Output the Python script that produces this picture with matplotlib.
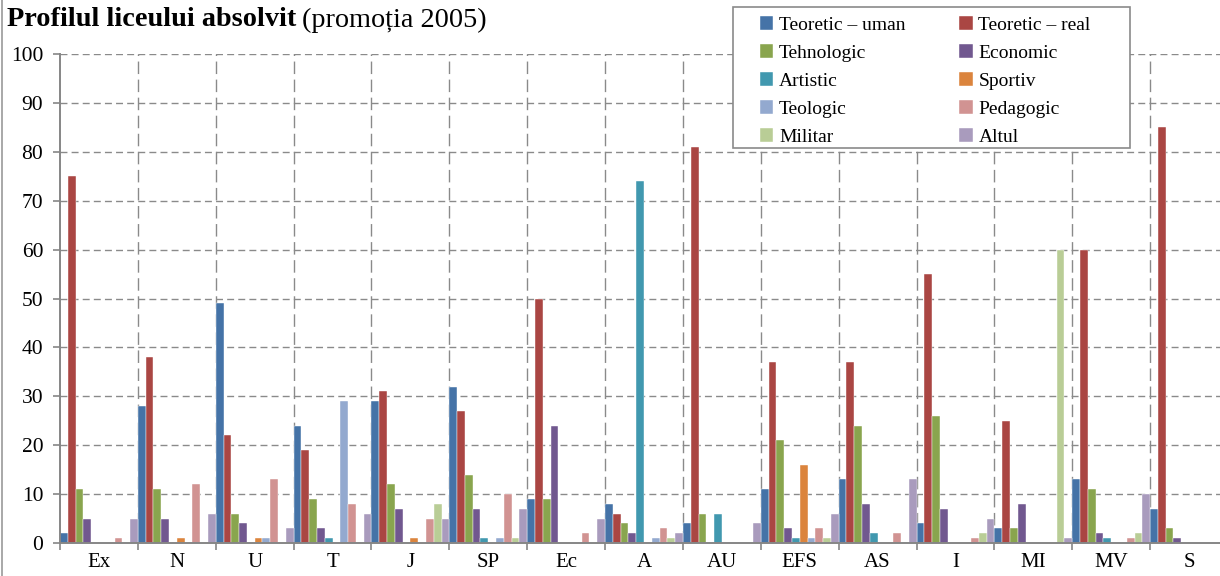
import numpy as np
import matplotlib
matplotlib.use("Agg")
import matplotlib.pyplot as plt
from matplotlib.patches import Rectangle
from matplotlib.lines import Line2D

categories = ["Ex", "N", "U", "T", "J", "SP", "Ec", "A", "AU", "EFS",
              "AS", "I", "MI", "MV", "S"]

series_names = ["Teoretic – uman", "Teoretic – real", "Tehnologic", "Economic",
                "Artistic", "Sportiv", "Teologic", "Pedagogic", "Militar", "Altul"]

teoretic_uman = [2, 28, 49, 24, 29, 32, 9, 8, 4, 11, 13, 4, 3, 13, 7]
teoretic_real = [75, 38, 22, 19, 31, 27, 50, 6, 81, 37, 37, 55, 25, 60, 85]
tehnologic = [11, 11, 6, 9, 12, 14, 9, 4, 6, 21, 24, 26, 3, 11, 3]
economic = [5, 5, 4, 3, 7, 7, 24, 2, 0, 3, 8, 7, 8, 2, 1]
artistic = [0, 0, 0, 1, 0, 1, 0, 74, 6, 1, 2, 0, 0, 1, 0]
sportiv = [0, 1, 1, 0, 1, 0, 0, 0, 0, 16, 0, 0, 0, 0, 0]
teologic = [0, 0, 1, 29, 0, 1, 0, 1, 0, 1, 0, 0, 0, 0, 0]
pedagogic = [1, 12, 13, 8, 5, 10, 2, 3, 0, 3, 2, 1, 0, 1, 0]
militar = [0, 0, 0, 0, 8, 1, 0, 1, 0, 1, 0, 2, 60, 2, 0]
altul = [5, 6, 3, 6, 5, 7, 5, 2, 4, 6, 13, 5, 1, 10, 0]

values = [teoretic_uman, teoretic_real, tehnologic, economic, artistic,
          sportiv, teologic, pedagogic, militar, altul]

colors = ["#4573A7", "#AA4643", "#89A54E", "#71588F", "#4198AF",
          "#DB843D", "#93A9CF", "#D19392", "#B9CD96", "#A99BBD"]

serif = ["Liberation Serif", "DejaVu Serif"]
plt.rcParams["font.family"] = serif

W, H = 1220, 576
fig = plt.figure(figsize=(W / 100, H / 100), dpi=100)
ax = fig.add_axes([60 / W, 33 / H, (1228 - 60) / W, 489 / H])

n = len(values)
x = np.arange(len(categories))
bw = 1.0 / n
for i, (vals, col) in enumerate(zip(values, colors)):
    ax.bar(x - 0.5 + bw * (i + 0.5), vals, width=bw, color=col,
           edgecolor="white", linewidth=0.3, label=series_names[i], zorder=3)

ax.set_xlim(-0.5, len(categories) - 0.5)
ax.set_ylim(0, 100)
ax.set_yticks(range(0, 101, 10))
ax.set_xticks(np.arange(len(categories) + 1) - 0.5)
ax.set_xticklabels([])
ax.set_xticks(x, minor=True)
ax.set_xticklabels(categories, minor=True)
ax.tick_params(axis="x", which="minor", length=0, pad=7, labelsize=15)
ax.tick_params(axis="x", which="major", length=5, color="#868686", width=1.2)
ax.tick_params(axis="y", length=5, color="#868686", width=1.2, labelsize=15.5, pad=7)

for s in ["top", "right"]:
    ax.spines[s].set_visible(False)
for s in ["left", "bottom"]:
    ax.spines[s].set_color("#868686")
    ax.spines[s].set_linewidth(1.4)
    ax.spines[s].set_zorder(4)

for yv in range(10, 101, 10):
    ax.axhline(yv, color="#8a8a8a", lw=1.0, ls=(0, (5, 3)), zorder=1)
for xv in np.arange(1, len(categories)) - 0.5:
    ax.axvline(xv, color="#8a8a8a", lw=1.0, ls=(0, (9, 4)), zorder=1)

# left frame line of chart area
fig.add_artist(Line2D([2 / W, 2 / W], [0, 1], color="#9a9a9a", lw=1.2))

# title: bold part + normal part
t1 = fig.text(7 / W, 1 - 20 / H, "Profilul liceului absolvit", fontsize=20.3,
              fontweight="bold", va="center", ha="left")
fig.canvas.draw()
bb = t1.get_window_extent(fig.canvas.get_renderer())
fig.text(bb.x1 / W + 6 / W, 1 - 20 / H, "(promoția 2005)", fontsize=20.3,
         va="center", ha="left")

# legend with its own frame
fig.add_artist(Rectangle((733 / W, 1 - 148 / H), (1130 - 733) / W, (148 - 7) / H,
                         transform=fig.transFigure, facecolor="white",
                         edgecolor="#8a8a8a", lw=1.2, zorder=5))
handles, labels = ax.get_legend_handles_labels()
order = [0, 2, 4, 6, 8, 1, 3, 5, 7, 9]
leg = fig.legend([handles[i] for i in order], [labels[i] for i in order],
                 ncol=2, loc="upper left", bbox_to_anchor=(742 / W, 1 + 1 / H),
                 frameon=False, fontsize=14, handlelength=0.7, handleheight=0.7,
                 handletextpad=0.3, columnspacing=2.75, labelspacing=0.53)
leg.set_zorder(6)

fig.savefig("out.png", dpi=100)
